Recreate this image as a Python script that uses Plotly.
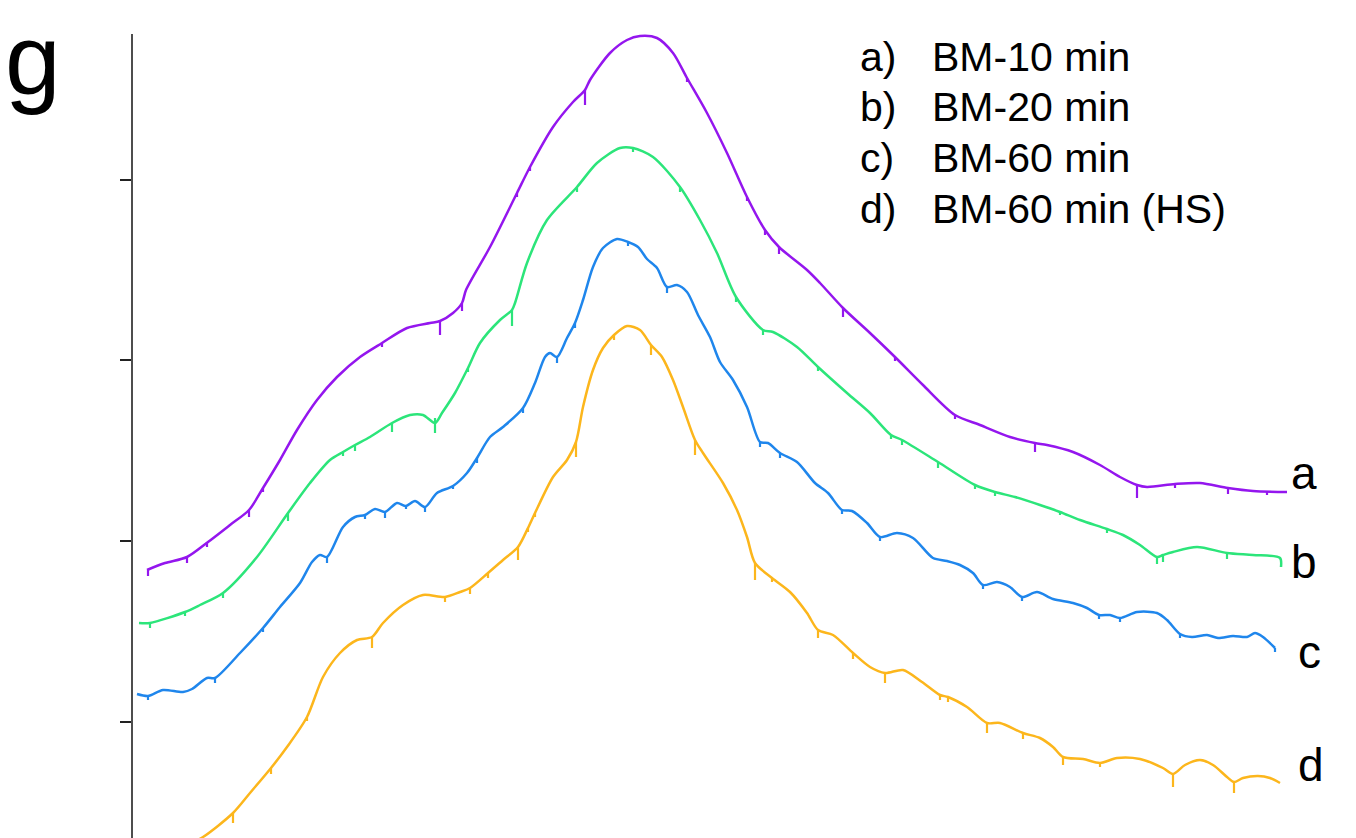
import plotly.graph_objects as go

# ---------------- data (x: channel, y: intensity a.u.) ----------------
a_x = [147, 165, 187, 208, 230, 249, 263, 280, 297, 317, 337, 360, 382, 407, 430, 440, 453, 462, 466,
       490, 517, 530, 553, 573, 585, 590, 610, 627, 640, 657, 673, 687, 707, 727, 747, 765, 779, 807,
       820, 843, 870, 895, 923, 955, 980, 1010, 1035, 1047, 1073, 1100, 1120, 1137, 1147, 1175, 1200,
       1228, 1253, 1287]
a_y = [268, 275, 281, 296, 313, 328, 350, 378, 408, 438, 461, 481, 495, 510, 515, 517, 525, 535, 548,
       591, 645, 671, 711, 736, 748, 758, 785, 798, 802, 800, 785, 760, 725, 685, 641, 608, 591, 568,
       555, 530, 505, 481, 453, 423, 413, 401, 395, 393, 386, 373, 361, 353, 351, 354, 355,
       350, 347, 346]
a_spike_x = [148, 187, 207, 249, 263, 382, 440, 462, 517, 530, 585, 687, 747, 765, 779, 843, 895, 955,
             1035, 1137, 1175, 1228, 1267]
a_spike_y = [268, 281, 296, 328, 350, 495, 517, 535, 645, 671, 748, 760, 641, 608, 591, 530, 481, 423,
             395, 353, 354, 350, 347]
a_spike_d = [6, 6, 5, 7, 4, 4, 14, 8, 4, 4, 15, 4, 4, 5, 7, 9, 4, 4, 9, 13, 4, 6, 4]

b_x = [139, 150, 185, 200, 223, 257, 288, 310, 330, 343, 355, 370, 392, 410, 423, 435, 442, 455, 468,
       480, 500, 512, 515, 527, 547, 577, 597, 620, 633, 653, 680, 700, 717, 736, 763, 773, 797, 818,
       847, 870, 891, 902, 938, 975, 995, 1015, 1040, 1060, 1080, 1107, 1123, 1140, 1157, 1163, 1173,
       1197, 1227, 1253, 1280, 1281]
b_y = [215, 215, 226, 233, 245, 281, 325, 355, 378, 386, 393, 401, 415, 423, 423, 415, 425, 445, 470,
       495, 518, 528, 535, 575, 618, 651, 675, 690, 690, 681, 651, 618, 585, 541, 508, 506, 491, 471,
       445, 425, 403, 398, 376, 353, 346, 341, 333, 326, 318, 309, 303, 293, 281, 283, 286,
       291, 285, 283, 280, 271]
b_spike_x = [150, 185, 223, 288, 343, 355, 392, 435, 468, 512, 577, 633, 680, 736, 763, 818, 891, 902,
             938, 975, 995, 1060, 1107, 1157, 1163, 1227]
b_spike_y = [215, 226, 245, 325, 386, 393, 415, 420, 470, 528, 651, 690, 651, 541, 508, 471, 403, 398,
             376, 353, 346, 326, 309, 281, 283, 285]
b_spike_d = [5, 4, 5, 8, 4, 6, 9, 15, 4, 16, 5, 4, 5, 5, 5, 4, 4, 5, 6, 4, 4, 3, 4, 7, 7, 6]

c_x = [137, 148, 163, 183, 192, 207, 215, 240, 263, 280, 300, 312, 320, 327, 343, 355, 365, 375, 385,
       397, 406, 415, 425, 437, 453, 467, 477, 490, 503, 523, 535, 545, 550, 557, 567, 575, 583, 593,
       603, 617, 628, 638, 647, 657, 667, 677, 687, 698, 710, 720, 733, 747, 760, 768, 780, 797, 815,
       828, 842, 852, 867, 880, 897, 913, 933, 947, 960, 973, 983, 997, 1010, 1022, 1037, 1053, 1073,
       1087, 1099, 1110, 1120, 1137, 1157, 1167, 1180, 1192, 1207, 1218, 1233, 1247, 1255, 1263, 1275]
c_y = [144, 142, 148, 146, 149, 160, 160, 185, 210, 231, 255, 276, 283, 281, 311, 321, 323, 329, 326,
       335, 332, 337, 331, 345, 352, 365, 380, 401, 411, 430, 455, 481, 485, 481, 500, 515, 538, 571,
       590, 599, 596, 591, 579, 570, 551, 553, 546, 523, 501, 476, 458, 431, 396, 395, 385, 376, 355,
       345, 328, 327, 315, 301, 305, 300, 280, 277, 273, 265, 253, 256, 251, 241, 246, 239, 235,
       230, 223, 223, 220, 226, 225, 218, 204, 201, 203, 200, 202, 201, 205, 201, 190]
c_spike_x = [148, 215, 263, 327, 365, 385, 406, 425, 453, 477, 523, 557, 575, 628, 667, 760, 780, 842,
             880, 983, 1022, 1099, 1120, 1180, 1275]
c_spike_y = [142, 160, 210, 281, 323, 326, 332, 331, 352, 380, 430, 481, 515, 596, 551, 396, 385, 328,
             301, 253, 241, 223, 220, 204, 190]
c_spike_d = [4, 5, 4, 6, 4, 6, 3, 5, 3, 5, 5, 6, 5, 4, 6, 5, 5, 4, 4, 4, 4, 4, 4, 4, 4]

d_x = [185, 203, 233, 250, 271, 287, 307, 323, 340, 357, 372, 383, 403, 423, 445, 460, 470, 488, 503,
       518, 528, 535, 553, 567, 576, 583, 593, 603, 614, 627, 640, 651, 662, 673, 683, 695, 703, 723,
       737, 747, 755, 772, 790, 807, 818, 833, 853, 870, 885, 903, 922, 940, 948, 967, 987, 1000,
       1023, 1040, 1053, 1063, 1083, 1100, 1117, 1140, 1163, 1173, 1185, 1200, 1213, 1227, 1234, 1243,
       1258, 1270, 1280]
d_y = [-8, 1, 25, 45, 70, 91, 121, 161, 185, 198, 201, 215, 233, 243, 241, 246, 250, 265, 278,
       291, 310, 325, 361, 378, 396, 431, 468, 490, 503, 512, 508, 493, 481, 458, 431, 398, 385, 355,
       328, 301, 275, 260, 246, 225, 208, 203, 185, 171, 165, 168, 156, 143, 141, 131, 115, 115,
       105, 100, 91, 81, 79, 75, 80, 79, 70, 64, 73, 78, 73, 61, 56, 60,
       62, 60, 55]
d_spike_x = [233, 271, 307, 372, 445, 470, 488, 518, 528, 535, 576, 614, 651, 695, 755, 772, 818, 853,
             885, 940, 948, 987, 1023, 1063, 1100, 1173, 1234]
d_spike_y = [25, 70, 121, 201, 241, 250, 265, 291, 310, 325, 396, 503, 493, 398, 275, 260, 208, 185,
             165, 143, 141, 115, 105, 81, 75, 64, 56]
d_spike_d = [10, 6, 4, 11, 5, 6, 5, 13, 4, 4, 15, 5, 10, 15, 17, 4, 8, 6, 10, 5, 5, 10, 6, 8, 4, 13, 11]

legend_keys = ["a)", "b)", "c)", "d)"]
legend_names = ["BM-10 min", "BM-20 min", "BM-60 min", "BM-60 min (HS)"]
curve_labels = ["a", "b", "c", "d"]
colors = ["#9416EE", "#2CE57A", "#1F86EC", "#FCB61C"]

y_ticks = [116, 297, 478, 658]

# ---------------- figure ----------------
FONT = "Liberation Sans, Arial, Helvetica, sans-serif"
X0, X1 = 133, 1356       # x-axis range
Y0, Y1 = 0, 804          # y-axis range
T_MARGIN = 34
fig = go.Figure()

series = [
    (a_x, a_y, a_spike_x, a_spike_y, a_spike_d),
    (b_x, b_y, b_spike_x, b_spike_y, b_spike_d),
    (c_x, c_y, c_spike_x, c_spike_y, c_spike_d),
    (d_x, d_y, d_spike_x, d_spike_y, d_spike_d),
]

for i, (xs, ys, sx, sy, sd) in enumerate(series):
    name = legend_keys[i] + " " + legend_names[i]
    fig.add_trace(go.Scatter(
        x=xs, y=ys, mode="lines", name=name, showlegend=False,
        line=dict(color=colors[i], width=2.5, shape="spline", smoothing=0.8),
        hoverinfo="x+y+name"))
    spx, spy = [], []
    for x0, y0, d0 in zip(sx, sy, sd):
        spx += [x0, x0, None]
        spy += [y0, y0 - d0, None]
    fig.add_trace(go.Scatter(
        x=spx, y=spy, mode="lines", showlegend=False, hoverinfo="skip",
        line=dict(color=colors[i], width=2.2)))


def px_x(v):
    return (v - X0) / (X1 - X0)


def px_y(v):
    return (838 - v) / (Y1 - Y0)


annotations = []
# panel letter (outside the plot area -> paper coordinates), kept fully inside the page
annotations.append(dict(x=px_x(3), y=px_y(1), xref="paper", yref="paper", text="g",
                        showarrow=False, xanchor="left", yanchor="top",
                        font=dict(family=FONT, size=100, color="black")))
# legend text block
legend_rows = [57, 107, 158, 209]
for k, nm, yr in zip(legend_keys, legend_names, legend_rows):
    annotations.append(dict(x=858, y=838 - yr, xref="x", yref="y", text=k, showarrow=False,
                            xanchor="left", yanchor="middle",
                            font=dict(family=FONT, size=41, color="black")))
    annotations.append(dict(x=930, y=838 - yr, xref="x", yref="y", text=nm, showarrow=False,
                            xanchor="left", yanchor="middle",
                            font=dict(family=FONT, size=41, color="black")))
# curve labels at the right
label_pos = [(1289, 473), (1289, 562), (1296, 652), (1296, 765)]
for lab, (lx, ly) in zip(curve_labels, label_pos):
    annotations.append(dict(x=lx, y=838 - ly, xref="x", yref="y", text=lab, showarrow=False,
                            xanchor="left", yanchor="middle",
                            font=dict(family=FONT, size=46, color="black")))

fig.update_layout(
    width=1356, height=838,
    margin=dict(l=133, r=0, t=T_MARGIN, b=0),
    paper_bgcolor="white", plot_bgcolor="white",
    showlegend=False,
    annotations=annotations,
    xaxis=dict(range=[X0, X1], visible=False, fixedrange=True),
    yaxis=dict(range=[Y0, Y1], showline=True, linecolor="#4d4d4d", linewidth=2,
               ticks="outside", ticklen=11, tickwidth=2, tickcolor="#222222",
               tickvals=y_ticks, showticklabels=False, showgrid=False, zeroline=False,
               fixedrange=True),
)

fig.write_html("out.html")
